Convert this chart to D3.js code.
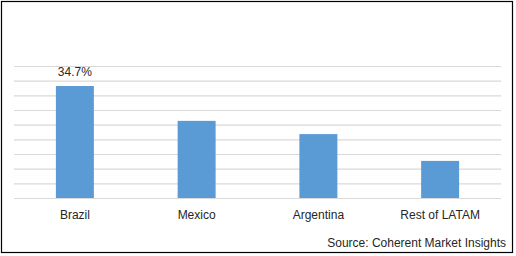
<!DOCTYPE html>
<html>
<head>
<meta charset="utf-8">
<script src="https://cdn.jsdelivr.net/npm/d3@7"></script>
<style>
  body { margin: 0; background: #fff; }
  text { font-family: "Liberation Sans", "DejaVu Sans", sans-serif; fill: #262626; }
</style>
</head>
<body>
<svg id="chart" width="516" height="256"></svg>
<script>
const regions = ["Brazil", "Mexico", "Argentina", "Rest of LATAM"];
const shares = [34.7, 23.9, 19.8, 11.5];
const valueLabels = ["34.7%", "", "", ""];
const yMax = 40.9;
const gridCount = 9;

const svg = d3.select("#chart");
const margin = {top: 66, right: 15, bottom: 58, left: 14};
const width = 516 - margin.left - margin.right;
const height = 256 - margin.top - margin.bottom;

// outer frame
svg.append("rect")
    .attr("x", 1.5).attr("y", 1.5)
    .attr("width", 511).attr("height", 251)
    .attr("fill", "none")
    .attr("stroke", "#000")
    .attr("stroke-width", 1.2);

const g = svg.append("g")
    .attr("transform", `translate(${margin.left},${margin.top})`);

const x = d3.scaleBand()
    .domain(regions)
    .range([0, width])
    .paddingInner(0.688)
    .paddingOuter(0.344);

const y = d3.scaleLinear()
    .domain([0, yMax])
    .range([height, 0]);

// gridlines
const gridVals = d3.range(gridCount + 1).map(i => i * yMax / gridCount);
g.append("g")
    .attr("class", "grid")
    .call(d3.axisLeft(y).tickValues(gridVals).tickSize(-width).tickFormat(""))
    .call(g => g.select(".domain").remove())
    .call(g => g.selectAll(".tick line")
        .attr("stroke", "#d9d9d9")
        .attr("stroke-width", 1.2));

// bars
g.selectAll(".bar")
    .data(regions)
    .enter().append("rect")
    .attr("class", "bar")
    .attr("x", d => x(d))
    .attr("y", (d, i) => y(shares[i]))
    .attr("width", x.bandwidth())
    .attr("height", (d, i) => height - y(shares[i]))
    .attr("fill", "#5b9bd5");

// data label
g.selectAll(".val")
    .data(regions)
    .enter().append("text")
    .attr("class", "val")
    .attr("x", d => x(d) + x.bandwidth() / 2)
    .attr("y", (d, i) => y(shares[i]) - 10)
    .attr("text-anchor", "middle")
    .style("font-size", "12px")
    .text((d, i) => valueLabels[i]);

// x axis labels
g.append("g")
    .attr("transform", `translate(0,${height})`)
    .call(d3.axisBottom(x).tickSize(0).tickPadding(12))
    .call(g => g.select(".domain").remove())
    .call(g => g.selectAll(".tick text")
        .style("font-family", "'Liberation Sans', sans-serif")
        .style("font-size", "12px")
        .attr("fill", "#262626"));

// source
svg.append("text")
    .attr("x", 506)
    .attr("y", 247)
    .attr("text-anchor", "end")
    .style("font-size", "12px")
    .text("Source: Coherent Market Insights");
</script>
</body>
</html>
